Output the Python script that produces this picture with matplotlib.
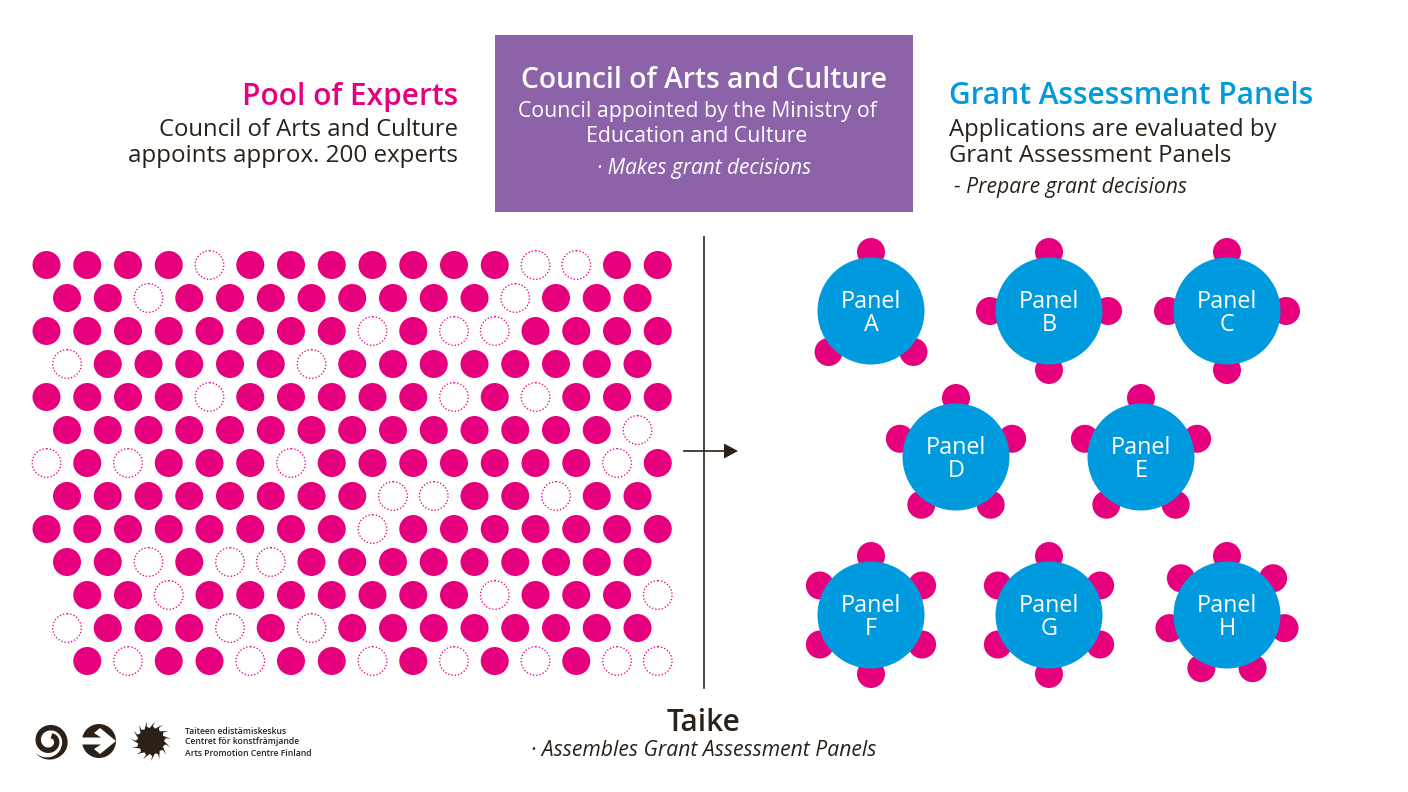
import numpy as np
import matplotlib.pyplot as plt
from matplotlib.patches import Circle, Rectangle, Polygon

PINK = '#e6007e'
BLUE = '#009ade'
PURPLE = '#8c62a8'
DARK = '#2b2118'

# number of the first seat in each row, and which positions are hollow
row_start = [0, 0, 0, 0, 0, 0, 0, 0, 0, 0, 1, 0, 1]
row_count = [16, 15, 16, 15, 16, 15, 16, 15, 16, 15, 15, 15, 15]
hollow = [[4, 12, 13], [2, 11], [8, 10, 11], [0, 6], [4, 10, 12], [14],
          [0, 2, 6, 14], [8, 9, 12], [8], [2, 4, 5], [3, 11, 15],
          [0, 4, 6], [2, 5, 8, 10, 12, 14, 15]]

panel_names = ['A', 'B', 'C', 'D', 'E', 'F', 'G', 'H']
panel_seats = [3, 4, 4, 5, 5, 6, 6, 7]
panel_x = [871, 1049, 1227, 956, 1141, 871, 1049, 1227]
panel_y = [311, 311, 311, 457, 457, 615, 615, 615]

plt.rcParams['font.family'] = ['Open Sans', 'DejaVu Sans']

fig = plt.figure(figsize=(14.08, 7.92), dpi=100)
ax = fig.add_axes([0, 0, 1, 1])
ax.set_xlim(0, 1408)
ax.set_ylim(792, 0)
ax.axis('off')

# pool of experts
for r in range(13):
    y = 265 + r * 33
    for i in range(row_count[r]):
        idx = i + row_start[r]
        if r % 2 == 0:
            x = 46.5 + idx * 40.75
        else:
            x = 67 + idx * 40.75
        if idx in hollow[r]:
            ax.add_patch(Circle((x, y), 14.3, fc='none', ec=PINK, lw=0.95, ls=(0, (1, 1.5))))
        else:
            ax.add_patch(Circle((x, y), 14, fc=PINK, ec='none'))

# panels
for name, n, x, y in zip(panel_names, panel_seats, panel_x, panel_y):
    if n == 3:
        # panel A has its two lower seats pulled closer together
        angles = np.radians([0, 134, 226])
    else:
        angles = 2 * np.pi * np.arange(n) / n
    for a in angles:
        ax.add_patch(Circle((x + 59 * np.sin(a), y - 59 * np.cos(a)), 14, fc=PINK, ec='none', zorder=2))
    ax.add_patch(Circle((x, y), 53.5, fc=BLUE, ec='none', zorder=3))
    ax.text(x, y - 9, 'Panel', color='white', fontsize=16.8, ha='center', va='center', zorder=4)
    ax.text(x, y + 14, name, color='white', fontsize=16.8, ha='center', va='center', zorder=4)

# divider and arrow
ax.plot([704, 704], [237, 688], color=DARK, lw=1.2)
ax.plot([684, 726], [451, 451], color=DARK, lw=1.2)
ax.add_patch(Polygon([[724, 443.5], [738, 451], [724, 458.5]], fc=DARK, ec='none'))

# purple box
ax.add_patch(Rectangle((495, 35), 418, 177, fc=PURPLE, ec='none'))
ax.text(704, 80, 'Council of Arts and Culture', color='white', fontsize=20.3, fontweight='semibold', ha='center', va='center')
ax.text(697, 111, 'Council appointed by the Ministry of', color='white', fontsize=15.35, ha='center', va='center')
ax.text(697, 137, 'Education and Culture', color='white', fontsize=15.35, ha='center', va='center')
ax.text(704, 168.5, '· Makes grant decisions', color='white', fontsize=15, style='italic', ha='center', va='center')

# left heading
ax.text(458, 96.5, 'Pool of Experts', color=PINK, fontsize=21.5, fontweight='semibold', ha='right', va='center')
ax.text(458, 130.5, 'Council of Arts and Culture', color=DARK, fontsize=17.2, ha='right', va='center')
ax.text(458, 156.5, 'appoints approx. 200 experts', color=DARK, fontsize=17.35, ha='right', va='center')

# right heading
ax.text(949, 96.5, 'Grant Assessment Panels', color=BLUE, fontsize=21.5, fontweight='semibold', ha='left', va='center')
ax.text(949, 130.5, 'Applications are evaluated by', color=DARK, fontsize=17.2, ha='left', va='center')
ax.text(949, 156.5, 'Grant Assessment Panels', color=DARK, fontsize=17.2, ha='left', va='center')
ax.text(954, 187, '- Prepare grant decisions', color=DARK, fontsize=15.2, style='italic', ha='left', va='center')

# bottom text
ax.text(704, 723, 'Taike', color=DARK, fontsize=21.5, fontweight='semibold', ha='center', va='center')
ax.text(704, 751, '· Assembles Grant Assessment Panels', color=DARK, fontsize=15.2, style='italic', ha='center', va='center')

# logos: spiral, drawn inwards from the pointed tail with a growing stroke
t = np.linspace(0, 1, 200)
ang = np.radians(-140 + 570 * t)
rad = 18.5 - 13 * t
width = np.minimum(t / 0.2, 1) * 5.5
outer = rad + width / 2
inner = rad - width / 2
spiral_x = 49.5 + np.concatenate([outer * np.cos(ang), (inner * np.cos(ang))[::-1]])
spiral_y = 741 - np.concatenate([outer * np.sin(ang), (inner * np.sin(ang))[::-1]])
ax.add_patch(Polygon(np.column_stack([spiral_x, spiral_y]), fc=DARK, ec='none'))

ax.add_patch(Circle((99, 741), 17, fc=DARK, ec='none'))
ax.add_patch(Polygon([[100, 728], [116, 741], [100, 754], [94, 749], [101, 744.5], [81, 744.5],
                      [81, 737.5], [101, 737.5], [94, 733]], fc='white', ec='none', zorder=3))

# sun with bent rays
n_rays = 15
sun_pts = []
for k in range(n_rays):
    a0 = 2 * np.pi * k / n_rays
    step = 2 * np.pi / n_rays
    for da, rr in [(0, 13), (0.3 * step, 15), (0.75 * step, 20), (0.55 * step, 15)]:
        sun_pts.append([151 + rr * np.cos(a0 + da), 741 + rr * np.sin(a0 + da)])
ax.add_patch(Polygon(sun_pts, fc=DARK, ec='none'))

ax.text(185, 731, 'Taiteen edistämiskeskus', color=DARK, fontsize=6.2, fontweight='semibold', ha='left', va='center')
ax.text(185, 742, 'Centret för konstfrämjande', color=DARK, fontsize=6.2, fontweight='semibold', ha='left', va='center')
ax.text(185, 753, 'Arts Promotion Centre Finland', color=DARK, fontsize=6.2, fontweight='semibold', ha='left', va='center')

fig.savefig('out.png', dpi=100)
